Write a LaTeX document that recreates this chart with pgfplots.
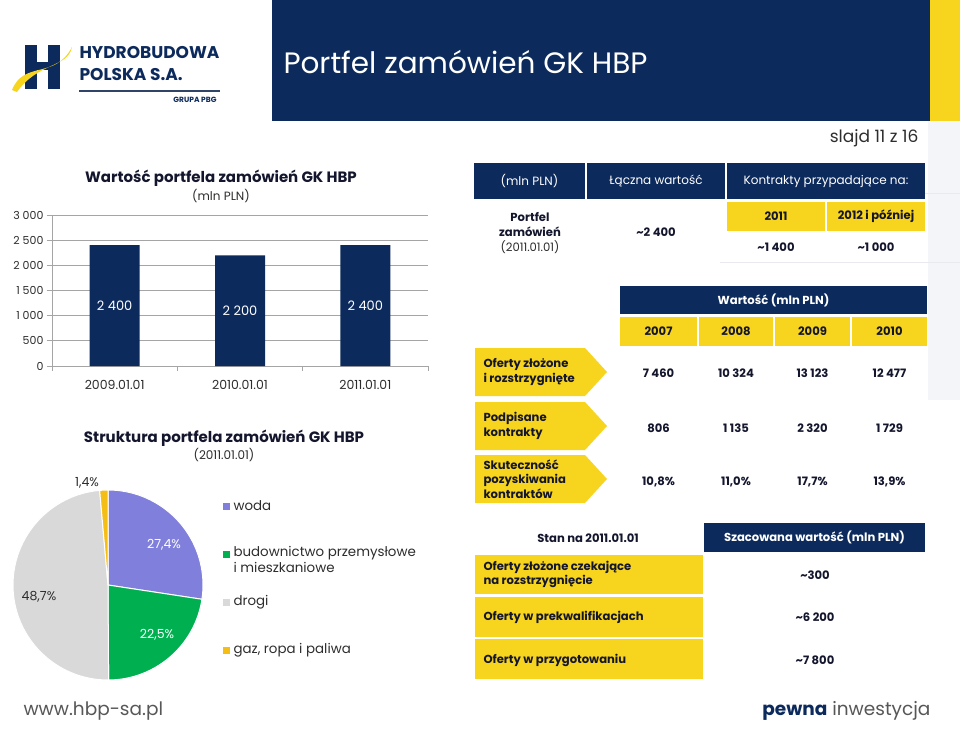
\documentclass[border=0pt]{standalone}
\usepackage{pgfplots}
\pgfplotsset{compat=1.18}
\usepackage{pgfplotstable}
\usepackage{fontspec}
\setmainfont{Poppins}
\definecolor{navy}{RGB}{12,42,92}
\definecolor{hyellow}{RGB}{247,212,30}
\definecolor{woda}{RGB}{128,128,220}
\definecolor{bud}{RGB}{0,176,80}
\definecolor{drogi}{RGB}{217,217,217}
\definecolor{gaz}{RGB}{245,190,20}
\definecolor{txt}{RGB}{45,45,45}
\definecolor{dtxt}{RGB}{20,22,45}
\definecolor{gridc}{RGB}{165,165,165}
\definecolor{faint}{RGB}{232,234,240}
\newcommand\fs[2]{\fontsize{#1}{#2}\selectfont}

\pgfplotstableread{
x y
0 2400
1 2200
2 2400
}\portfel

\begin{document}
\begin{tikzpicture}[x=1pt,y=1pt]
\useasboundingbox (0,0) rectangle (960,-728);
\fill[white] (0,0) rectangle (960,-728);
\coordinate (barorig) at (52,-366);
% ---------- header ----------
\fill[faint!50] (928,-121) rectangle (960,-400);
\draw[faint,line width=1pt] (925,-193) -- (960,-193);
\draw[faint,line width=1pt] (720,-262) -- (960,-262);
\fill[navy] (272,0) rectangle (930,-121);
\fill[hyellow] (930,0) rectangle (960,-121);
\node[anchor=west,white,font=\fs{29.5}{32}] at (280,-62) {Portfel zamówień GK HBP};
\node[anchor=east,txt,font=\fs{17}{19}] at (922,-138) {slajd 11 z 16};
% logo
\fill[navy] (25,-45) rectangle (37,-89);
\fill[navy] (48,-45) rectangle (60,-89);
\fill[navy] (37,-62) rectangle (48,-70);
\fill[hyellow] (12,-90) .. controls (24,-60) and (55,-80) .. (72,-47)
   .. controls (68,-68) and (38,-62) .. (17,-92) -- cycle;
\node[anchor=west,navy,font=\bfseries\fs{17}{18}] at (76,-53) {HYDROBUDOWA};
\node[anchor=west,navy,font=\bfseries\fs{17}{18}] at (76,-75) {POLSKA S.A.};
\draw[navy!70!gray,line width=1.3pt] (79,-91) -- (220,-91);
\node[anchor=east,navy,font=\bfseries\fs{7.5}{9}] at (220,-100) {GRUPA PBG};
% ---------- bar chart ----------
\node[dtxt,font=\bfseries\fs{15}{17}] at (221,-178) {Wartość portfela zamówień GK HBP};
\node[txt,font=\fs{12}{14}] at (221,-196) {(mln PLN)};
\begin{axis}[
  at={(barorig)}, anchor=south west,
  width=376pt, height=151pt, scale only axis,
  xmin=-0.5, xmax=2.5, ymin=0, ymax=3000,
  ytick={0,500,...,3000},
  yticklabels={0,500,1 000,1 500,2 000,2 500,3 000},
  xtick={0,1,2}, xticklabels={2009.01.01,2010.01.01,2011.01.01},
  minor xtick={-0.5,0.5,1.5,2.5},
  ymajorgrids, grid style={gridc, line width=0.8pt},
  axis x line*=bottom, axis y line*=left,
  axis line style={gridc, line width=0.8pt, -},
  major x tick style={draw=none},
  minor x tick style={gridc, line width=0.8pt},
  ytick style={gridc, line width=0.8pt},
  tick align=outside, major tick length=5pt, minor tick length=5pt,
  yticklabel style={font=\fs{11}{13}, text=txt},
  xticklabel style={font=\fs{12.5}{14}, text=txt, yshift=-6pt},
  /pgf/number format/assume math mode=true,
  ybar, bar width=50pt,
  clip=false,
]
\addplot[fill=navy, draw=none,
  point meta=y,
  visualization depends on={y \as \rawy},
  nodes near coords={\pgfmathprintnumber[1000 sep={\ },assume math mode=true]{\pgfplotspointmeta}},
  every node near coord/.append style={anchor=center, text=white, font=\fs{13}{15},
     shift={(axis direction cs:0,-\rawy/2)}},
] table[x=x,y=y] {\portfel};
\end{axis}
% ---------- pie chart ----------
\node[dtxt,font=\bfseries\fs{15}{17}] at (224,-438) {Struktura portfela zamówień GK HBP};
\node[txt,font=\fs{12}{14}] at (224,-455) {(2011.01.01)};
\def\pieang{90}
\foreach \p/\c in {27.4/woda,22.5/bud,48.7/drogi,1.4/gaz}{
  \pgfmathsetmacro\pieend{\pieang-3.6*\p}
  \fill[\c,draw=white,line width=1pt] (108,-585) -- ++(\pieang:95)
     arc[start angle=\pieang,end angle=\pieend,radius=95] -- cycle;
  \global\let\pieang\pieend
}
\node[white,font=\fs{12.5}{14}] at (164,-545) {27,4\%};
\node[white,font=\fs{12.5}{14}] at (157,-635) {22,5\%};
\node[txt,font=\fs{12.5}{14}] at (39,-597) {48,7\%};
\node[txt,font=\fs{12.5}{14}] at (87,-483) {1,4\%};
% legend
\fill[woda] (223,-502.5) rectangle (230,-509.5);
\node[anchor=west,txt,font=\fs{13.4}{16}] at (230,-506) {woda};
\fill[bud] (223,-550.5) rectangle (230,-557.5);
\node[anchor=north west,txt,font=\fs{13.4}{16.5},align=left,inner ysep=0pt] at (230,-546) {budownictwo przemysłowe\\i mieszkaniowe};
\fill[drogi] (223,-598.5) rectangle (230,-605.5);
\node[anchor=west,txt,font=\fs{13.4}{16}] at (230,-602) {drogi};
\fill[gaz] (223,-646.5) rectangle (230,-653.5);
\node[anchor=west,txt,font=\fs{13.4}{16}] at (230,-650) {gaz, ropa i paliwa};
% ---------- table 1 ----------
\fill[navy] (474,-163) rectangle (585,-199);
\fill[navy] (587,-163) rectangle (725,-199);
\fill[navy] (727,-163) rectangle (925,-199);
\node[white,font=\fs{12}{14}] at (529.5,-181) {(mln PLN)};
\node[white,font=\fs{12}{14}] at (656,-181) {Łączna wartość};
\node[white,font=\fs{12}{14}] at (826,-181) {Kontrakty przypadające na:};
\fill[hyellow] (727,-202) rectangle (825,-231);
\fill[hyellow] (827,-202) rectangle (925,-231);
\node[dtxt,font=\bfseries\fs{11.6}{14}] at (776,-216.5) {2011};
\node[dtxt,font=\bfseries\fs{11.6}{14}] at (876,-216.5) {2012 i później};
\node[dtxt,font=\bfseries\fs{11.6}{14}] at (776,-247) {\textasciitilde 1 400};
\node[dtxt,font=\bfseries\fs{11.6}{14}] at (876,-247) {\textasciitilde 1 000};
\node[dtxt,font=\bfseries\fs{11.6}{14}] at (656,-232) {\textasciitilde 2 400};
\node[dtxt,font=\bfseries\fs{11.6}{14}] at (530,-217) {Portfel};
\node[dtxt,font=\bfseries\fs{11.6}{14}] at (530,-232) {zamówień};
\node[txt,font=\fs{11.6}{14}] at (530,-247) {(2011.01.01)};
% ---------- table 2 ----------
\fill[navy] (620,-286) rectangle (927,-314);
\node[white,font=\bfseries\fs{11.6}{14}] at (773.5,-300) {Wartość (mln PLN)};
\foreach \a/\b/\yr in {620/697/2007,699/773/2008,775/850/2009,852/927/2010}{
  \fill[hyellow] (\a,-317) rectangle (\b,-346);
  \node[dtxt,font=\bfseries\fs{11.6}{14}] at ({(\a+\b)/2},-331.5) {\yr};
}
\foreach \t/\bt in {348/396,402/450,455/503}{
  \fill[hyellow] (475,-\t) -- (585,-\t) -- (607,{-(\t+\bt)/2}) -- (585,-\bt) -- (475,-\bt) -- cycle;
}
\node[anchor=west,dtxt,font=\bfseries\fs{11.6}{14.5},align=left] at (480,-372) {Oferty złożone\\i rozstrzygnięte};
\node[anchor=west,dtxt,font=\bfseries\fs{11.6}{14.5},align=left] at (480,-426) {Podpisane\\kontrakty};
\node[anchor=west,dtxt,font=\bfseries\fs{11.6}{14.5},align=left] at (480,-479) {Skuteczność\\pozyskiwania\\kontraktów};
\foreach \xx/\v in {658.5/7 460,736/10 324,812.5/13 123,889.5/12 477}{
  \node[dtxt,font=\bfseries\fs{11.6}{14}] at (\xx,-373) {\v};}
\foreach \xx/\v in {658.5/806,736/1 135,812.5/2 320,889.5/1 729}{
  \node[dtxt,font=\bfseries\fs{11.6}{14}] at (\xx,-428) {\v};}
\foreach \xx/\v in {658.5/{10,8\%},736/{11,0\%},812.5/{17,7\%},889.5/{13,9\%}}{
  \node[dtxt,font=\bfseries\fs{11.6}{14}] at (\xx,-482) {\v};}
% ---------- table 3 ----------
\node[dtxt,font=\bfseries\fs{11.6}{14}] at (588,-538) {Stan na 2011.01.01};
\fill[navy] (704,-523) rectangle (925,-552);
\node[white,font=\bfseries\fs{11.6}{14}] at (814.5,-537.5) {Szacowana wartość (mln PLN)};
\fill[hyellow] (475,-555) rectangle (703,-594);
\fill[hyellow] (475,-597) rectangle (703,-637);
\fill[hyellow] (475,-639) rectangle (703,-679);
\node[anchor=west,dtxt,font=\bfseries\fs{11.6}{14.5},align=left] at (480,-574.5) {Oferty złożone czekające\\na rozstrzygnięcie};
\node[anchor=west,dtxt,font=\bfseries\fs{11.6}{14}] at (480,-617) {Oferty w prekwalifikacjach};
\node[anchor=west,dtxt,font=\bfseries\fs{11.6}{14}] at (480,-660) {Oferty w przygotowaniu};
\node[dtxt,font=\bfseries\fs{11.6}{14}] at (815,-575) {\textasciitilde 300};
\node[dtxt,font=\bfseries\fs{11.6}{14}] at (815,-617) {\textasciitilde 6 200};
\node[dtxt,font=\bfseries\fs{11.6}{14}] at (815,-660) {\textasciitilde 7 800};
% ---------- footer ----------
\node[anchor=west,txt!80,font=\fs{18.5}{20}] at (20,-711) {www.hbp-sa.pl};
\node[anchor=east,txt!80,font=\fs{18.5}{20}] at (934,-711) {{\bfseries\color{navy}pewna} inwestycja};
\end{tikzpicture}
\end{document}
